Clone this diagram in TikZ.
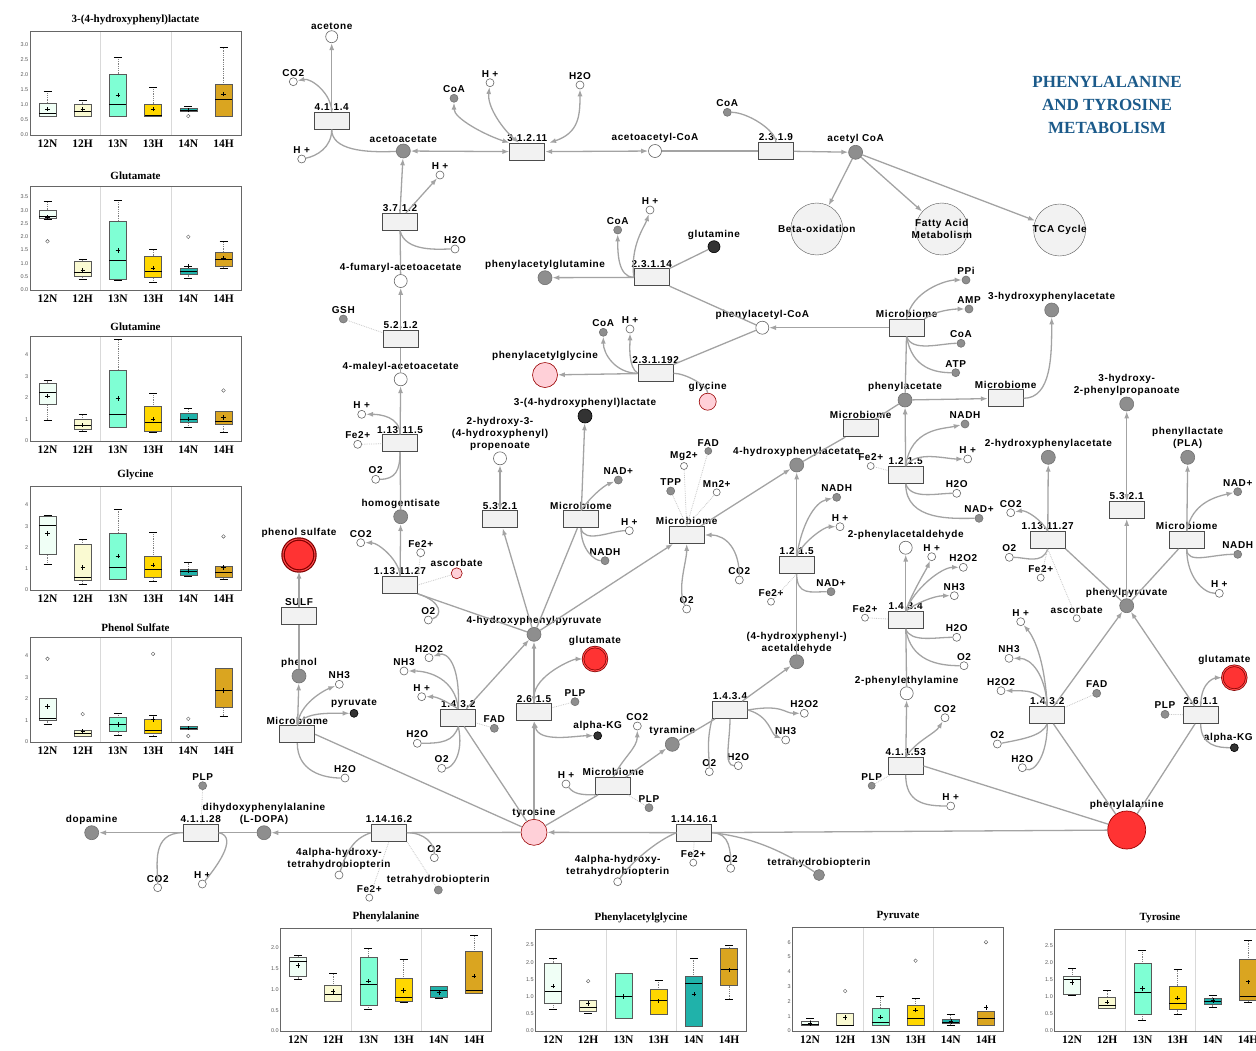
\documentclass[tikz,border=0pt]{standalone}
\usepackage{fontspec}
\setmainfont{Liberation Serif}
\newfontfamily\lbf[LetterSpace=6]{Liberation Sans}
\newfontfamily\tkf{Liberation Sans}
\newfontfamily\chf{Liberation Serif}
\usetikzlibrary{arrows.meta}
\usepackage{xcolor}

\definecolor{lgray}{HTML}{A3A3A3}
\definecolor{mgray}{HTML}{8E8E8E}
\definecolor{bgray}{HTML}{F2F2F2}
\definecolor{pinkf}{HTML}{FFD0D8}
\definecolor{redf}{HTML}{FF3333}
\definecolor{ttlblue}{HTML}{1B5A8A}
\definecolor{c12n}{HTML}{F0FFF6}
\definecolor{c12h}{HTML}{FAFAD2}
\definecolor{c13n}{HTML}{7FFFD4}
\definecolor{c13h}{HTML}{FFD700}
\definecolor{c14n}{HTML}{20B2AA}
\definecolor{c14h}{HTML}{DAA520}

\newcommand\lbfont{\lbf\bfseries\fontsize{10}{12}\selectfont}

\tikzset{
  every label/.style={font=\lbfont, inner sep=1pt, align=center},
  label distance=0pt,
  sw/.style={circle, draw=gray!80!black, fill=white, minimum size=8pt, inner sep=0pt, line width=0.6pt},
  sg/.style={sw, fill=mgray, draw=mgray!80!black},
  sd/.style={sw, fill=black!80, draw=black},
  mw/.style={sw, minimum size=13pt},
  mg/.style={sg, minimum size=14pt},
  md/.style={sd, minimum size=14pt},
  pk/.style={circle, draw=red!60!black, fill=pinkf, inner sep=0pt, line width=0.6pt},
  rd/.style={circle, draw=red!50!black, fill=redf, inner sep=0pt, line width=0.7pt, double=red!70!white, double distance=1pt},
  rds/.style={circle, draw=red!60!black, fill=redf, inner sep=0pt, line width=0.7pt},
  enz/.style={draw=gray!60!black, fill=bgray, minimum width=35pt, minimum height=17pt, inner sep=0pt, line width=0.7pt},
  big/.style={circle, draw=gray!70!black, fill=bgray, minimum size=52pt, inner sep=0pt},
  lb/.style={font=\lbfont, inner sep=1pt, align=center},
  rl/.style={draw=lgray, line width=1.3pt},
  rx/.style={rl, -{Latex[length=7pt,width=5pt]}},
  rb/.style={rl, {Latex[length=7pt,width=5pt]}-{Latex[length=7pt,width=5pt]}},
  cf/.style={draw=gray!45, densely dotted, line width=0.8pt},
  tklbl/.style={anchor=east, font=\tkf\fontsize{5.5}{6}\selectfont, text=gray!70!black, inner sep=1.5pt},
  grplbl/.style={anchor=north, font=\chf\bfseries\fontsize{11.5}{12}\selectfont, yshift=-4pt, inner sep=1pt},
  ctitle/.style={anchor=south, font=\chf\bfseries\fontsize{11}{12}\selectfont, yshift=5pt, inner sep=1pt}
}

% frame, ticks, groups and title of one box plot
\newcommand\chartaxes[3]{%
  \draw[gray!30] (70.4,0) -- (70.4,#1) (140.8,0) -- (140.8,#1);
  \draw[gray!80!black, line width=0.6pt] (0,0) rectangle (211,#1);
  \foreach \t in {#3} \node[tklbl] at (0,\t) {\t};
  \foreach \g [count=\i from 0] in {12N,12H,13N,13H,14N,14H} \node[grplbl] at (17.5+35.2*\i,0) {\g};
  \node[ctitle] at (105.5,#1) {#2};
}
% one box: index, min, q1, median, q3, max, mean, colour
\newcommand\bxplot[8]{%
  \pgfmathsetmacro\bxc{17.5+35.2*#1}
  \draw[gray, densely dotted, line width=0.8pt] (\bxc,#2) -- (\bxc,#3) (\bxc,#5) -- (\bxc,#6);
  \draw[line width=0.7pt] (\bxc-4,#2) -- (\bxc+4,#2) (\bxc-4,#6) -- (\bxc+4,#6);
  \filldraw[fill=#8, draw=gray!70!black, line width=0.5pt] (\bxc-8.5,#3) rectangle (\bxc+8.5,#5);
  \draw[line width=0.8pt] (\bxc-8.5,#4) -- (\bxc+8.5,#4);
  \draw[line width=0.6pt] (\bxc,#7) +(-2.2pt,0) -- +(2.2pt,0) +(0,-2.2pt) -- +(0,2.2pt);
}
\newcommand\outl[2]{\draw[gray!70!black] (17.5+35.2*#1,#2) circle (1.8pt);}

\begin{document}
\begin{tikzpicture}[x=1pt, y=-1pt]
\clip (0,0) rectangle (1256,1050);

% ---- top: ketone bodies
\draw (331.7,36.7) node (acetone) [mw, minimum size=12pt, label=above:acetone] {};
\draw (293.3,81.7) node (co2a) [sw, label=above:CO2] {};
\draw (331.7,120.7) node (e4114) [enz, label=above:4.1.1.4] {};
\draw (301.7,159) node (hpa) [sw, label=above:H +] {};
\draw (403.3,151) node (acac) [mg, label=above:acetoacetate] {};
\draw (527.3,151.7) node (e31211) [enz, label=above:3.1.2.11] {};
\draw (454,98.3) node (coaa) [sg, label=above:CoA] {};
\draw (490,82.7) node (hpb) [sw, label=above:H +] {};
\draw (580,85) node (h2oa) [sw, label=above:H2O] {};
\draw (655,151) node (acacoa) [mw, label=above:acetoacetyl-CoA] {};
\draw (775.9,151) node (e2319) [enz, label=above:2.3.1.9] {};
\draw (727.3,112.3) node (coab) [sg, label=above:CoA] {};
\draw (855.6,152.3) node (accoa) [mg, label=above:acetyl CoA] {};
\draw (816.8,229) node (beta) [big] {};
\draw (941.8,229) node (fatty) [big] {};
\draw (1059.6,230) node (tca) [big] {};
\node[lb] at (beta) {Beta-oxidation};
\node[lb] at (fatty) {Fatty Acid\\Metabolism};
\node[lb] at (tca) {TCA Cycle};
\node[align=center, text=ttlblue, font=\chf\bfseries\fontsize{17}{23}\selectfont] (title) at (1107,105) {PHENYLALANINE\\AND TYROSINE\\METABOLISM};

% ---- homogentisate branch
\draw (440,175) node (hpc) [sw, label=above:H +] {};
\draw (400,221.7) node (e3712) [enz, label=above:3.7.1.2] {};
\draw (455,249) node (h2ob) [sw, label=above:H2O] {};
\draw (400.7,281) node (fum) [mw, label=above:4-fumaryl-acetoacetate] {};
\draw (400.7,339) node (e5212) [enz, label=above:5.2.1.2] {};
\draw (343.3,319) node (gsh) [sg, label=above:GSH] {};
\draw (400.7,379.3) node (mal) [mw, label=above:4-maleyl-acetoacetate] {};
\draw (361.7,414.3) node (hpd) [sw, label=above:H +] {};
\draw (400,443.3) node (e113115) [enz, label=above:1.13.11.5] {};
\draw (357.7,444.3) node (fea) [sw, label=above:Fe2+] {};
\draw (375.7,479.3) node (o2a) [sw, label=above:O2] {};
\draw (400.7,516.7) node (hga) [mg, label=above:homogentisate] {};
\draw (400,585) node (e1131127a) [enz, label=above:1.13.11.27] {};
\draw (360.7,542.7) node (co2b) [sw, label=above:CO2] {};
\draw (420.7,552.7) node (feb) [sw, label=above:Fe2+] {};
\draw (456.7,573.3) node (asca) [pk, minimum size=11pt, label=above:ascorbate] {};
\draw (428.3,620) node (o2b) [sw, label=above:O2] {};
\draw (534,634.3) node (hpp) [mg, label=above:4-hydroxyphenylpyruvate] {};

% ---- phenol
\draw (299,555) node (phs) [rd, minimum size=32pt, line width=1.2pt, label=above:phenol sulfate] {};
\draw (299,615.7) node (sulf) [enz, label=above:SULF] {};
\draw (299,676) node (phen) [mg, label=above:phenol] {};
\draw (297.3,734.3) node (mba) [enz, label=above:Microbiome] {};
\draw (339.3,684.3) node (nh3a) [sw, label=above:NH3] {};
\draw (354,713.3) node (pyr) [sd, label=above:pyruvate] {};
\draw (345,778) node (h2oc) [sw, label=above:H2O] {};

% ---- tyrosine side
\draw (500,458.3) node (hpprop) [mw, label={above:2-hydroxy-3-\\(4-hydroxyphenyl)\\propenoate}] {};
\draw (500,519.3) node (e5321a) [enz, label=above:5.3.2.1] {};
\draw (581,519.3) node (mbb) [enz, label=above:Microbiome] {};
\draw (585,416) node (hplac) [md, label=above:3-(4-hydroxyphenyl)lactate] {};
\draw (618.3,480) node (nada) [sg, label=above:NAD+] {};
\draw (629.3,530.7) node (hpe) [sw, label=above:H +] {};
\draw (605,560.7) node (nadha) [sg, label=above:NADH] {};
\draw (686.7,535) node (mbc) [enz, label=above:Microbiome] {};
\draw (670.7,491) node (tpp) [sg, label=above:TPP] {};
\draw (684,466) node (mg2) [sw, minimum size=7pt, label=above:Mg2+] {};
\draw (708.3,451) node (fada) [sg, minimum size=7pt, label=above:FAD] {};
\draw (716.7,492.3) node (mn2) [sw, minimum size=7pt, label=above:Mn2+] {};
\draw (739.3,580) node (co2c) [sw, label=above:CO2] {};
\draw (686.7,609) node (o2c) [sw, label=above:O2] {};
\draw (796.7,465) node (hpa4) [mg, label=above:4-hydroxyphenylacetate] {};
\draw (595,659) node (glua) [rd, minimum size=24pt, label=above:glutamate] {};
\draw (534,712.3) node (e2615) [enz, label=above:2.6.1.5] {};
\draw (575,701.7) node (plpa) [sg, label=above:PLP] {};
\draw (597.7,735.7) node (akga) [sd, label=above:alpha-KG] {};
\draw (458.3,717.7) node (e1432a) [enz, label=above:1.4.3.2] {};
\draw (429,657.7) node (h2o2a) [sw, label=above:H2O2] {};
\draw (404,671) node (nh3b) [sw, label=above:NH3] {};
\draw (421.7,696.7) node (hpf) [sw, label=above:H +] {};
\draw (494.3,728.3) node (fadb) [sg, label=above:FAD] {};
\draw (417.3,743.3) node (h2od) [sw, label=above:H2O] {};
\draw (441.7,768.3) node (o2d) [sw, label=above:O2] {};
\draw (730,710) node (e1434a) [enz, label=above:1.4.3.4] {};
\draw (672.3,744.3) node (tyra) [mg, label=above:tyramine] {};
\draw (796.7,661.7) node (hpald) [mg, label={above:(4-hydroxyphenyl-)\\acetaldehyde}] {};
\draw (804.3,713.3) node (h2o2b) [sw, label=above:H2O2] {};
\draw (785.7,740) node (nh3c) [sw, label=above:NH3] {};
\draw (709.3,771.7) node (o2e) [sw, label=above:O2] {};
\draw (738.3,765.7) node (h2oe) [sw, label=above:H2O] {};
\draw (613.3,786) node (mbd) [enz, label=above:Microbiome] {};
\draw (566,784) node (hpg) [sw, label=above:H +] {};
\draw (649,807.7) node (plpb) [sg, label=above:PLP] {};
\draw (637.3,726) node (co2d) [sw, label=above:CO2] {};
\draw (534,832.3) node (tyr) [pk, minimum size=26pt, label=above:tyrosine] {};

% ---- bottom row
\draw (694.3,832.7) node (e114161) [enz, label=above:1.14.16.1] {};
\draw (617.7,881.7) node (bh4oa) [sw, label={above:4alpha-hydroxy-\\tetrahydrobiopterin}] {};
\draw (693.3,862.7) node (fec) [sw, minimum size=7pt, label=above:Fe2+] {};
\draw (730.7,868.3) node (o2f) [sw, label=above:O2] {};
\draw (819,875) node (bh4a) [sg, minimum size=11pt, label=above:tetrahydrobiopterin] {};
\draw (389,832.7) node (e114162) [enz, label=above:1.14.16.2] {};
\draw (264,832.7) node (ldopa) [mg, label={above:dihydoxyphenylalanine\\(L-DOPA)}] {};
\draw (339,875) node (bh4ob) [sw, label={above:4alpha-hydroxy-\\tetrahydrobiopterin}] {};
\draw (369.3,897.7) node (fed) [sw, minimum size=7pt, label=above:Fe2+] {};
\draw (438.3,890) node (bh4b) [sg, label=above:tetrahydrobiopterin] {};
\draw (434.3,857.7) node (o2g) [sw, label=above:O2] {};
\draw (200.7,832.7) node (e41128) [enz, label=above:4.1.1.28] {};
\draw (202.7,785.7) node (plpc) [sg, label=above:PLP] {};
\draw (91.7,832.7) node (dopa) [mg, label=above:dopamine] {};
\draw (157.7,887.7) node (co2e) [sw, label=above:CO2] {};
\draw (202.3,884) node (hph) [sw, label=above:H +] {};

% ---- phenylacetate side
\draw (762.3,327.7) node (paccoa) [mw, label=above:phenylacetyl-CoA] {};
\draw (651.7,277.3) node (e23114) [enz, label=above:2.3.1.14] {};
\draw (545,277.7) node (pagln) [mg, label=above:phenylacetylglutamine] {};
\draw (617.7,230) node (coac) [sg, label=above:CoA] {};
\draw (650,210) node (hpi) [sw, label=above:H +] {};
\draw (714,246.7) node (gln) [md, minimum size=12pt, label=above:glutamine] {};
\draw (655.7,373.3) node (e231192) [enz, label=above:2.3.1.192] {};
\draw (545,375) node (pagly) [pk, minimum size=25pt, label=above:phenylacetylglycine] {};
\draw (603.3,332.3) node (coad) [sg, label=above:CoA] {};
\draw (630,329) node (hpj) [sw, label=above:H +] {};
\draw (707.7,401.7) node (gly) [pk, minimum size=17pt, label=above:glycine] {};
\draw (906.7,327.7) node (mbe) [enz, label=above:Microbiome] {};
\draw (966,280) node (ppi) [sg, label=above:PPi] {};
\draw (969,309) node (amp) [sg, label=above:AMP] {};
\draw (1051.7,310) node (hpa3) [mg, label=above:3-hydroxyphenylacetate] {};
\draw (961,343.3) node (coae) [sg, label=above:CoA] {};
\draw (955.7,372.7) node (atp) [sg, label=above:ATP] {};
\draw (905,400) node (pac) [mg, label=above:phenylacetate] {};
\draw (1005.7,398.3) node (mbf) [enz, label=above:Microbiome] {};
\draw (860.7,428.3) node (mbg) [enz, label=above:Microbiome] {};
\draw (905.7,475) node (e1215b) [enz, label=above:1.2.1.5] {};
\draw (870.7,466) node (fee) [sw, minimum size=7pt, label=above:Fe2+] {};
\draw (965,424) node (nadhb) [sg, label=above:NADH] {};
\draw (967.7,459) node (hpk) [sw, label=above:H +] {};
\draw (1048.3,457.3) node (hpa2) [mg, label=above:2-hydroxyphenylacetate] {};
\draw (956.7,493.3) node (h2of) [sw, label=above:H2O] {};
\draw (979,518.3) node (nadb) [sg, label=above:NAD+] {};
\draw (905.7,547.7) node (pald) [mw, label=above:2-phenylacetaldehyde] {};
\draw (796.7,565) node (e1215a) [enz, label=above:1.2.1.5] {};
\draw (836.7,497.3) node (nadhc) [sg, label=above:NADH] {};
\draw (840,526.7) node (hpl) [sw, label=above:H +] {};
\draw (831,591.7) node (nadc) [sg, label=above:NAD+] {};
\draw (771,601.7) node (fef) [sw, minimum size=7pt, label=above:Fe2+] {};
\draw (905.7,620) node (e1434b) [enz, label=above:1.4.3.4] {};
\draw (931.7,556.7) node (hpm) [sw, label=above:H +] {};
\draw (963.3,567.3) node (h2o2c) [sw, label=above:H2O2] {};
\draw (954.3,595.7) node (nh3d) [sw, label=above:NH3] {};
\draw (865,617.7) node (feg) [sw, minimum size=7pt, label=above:Fe2+] {};
\draw (956.7,637.3) node (h2og) [sw, label=above:H2O] {};
\draw (964,665.7) node (o2h) [sw, label=above:O2] {};
\draw (906.7,693.3) node (pea) [mw, label=above:2-phenylethylamine] {};
\draw (905.7,766) node (e41153) [enz, label=above:4.1.1.53] {};
\draw (945,717.7) node (co2f) [sw, label=above:CO2] {};
\draw (871.7,785.7) node (plpd) [sg, minimum size=7pt, label=above:PLP] {};
\draw (950.7,806) node (hpn) [sw, label=above:H +] {};
\draw (1126.7,830) node (phe) [rds, minimum size=38pt, label=above:phenylalanine] {};
\draw (1047.3,715) node (e1432b) [enz, label=above:1.4.3.2] {};
\draw (1020.7,621.7) node (hpo) [sw, label=above:H +] {};
\draw (1009,658.3) node (nh3e) [sw, label=above:NH3] {};
\draw (1001,690.7) node (h2o2d) [sw, label=above:H2O2] {};
\draw (1096.7,693.3) node (fadc) [sg, label=above:FAD] {};
\draw (997.3,744) node (o2i) [sw, label=above:O2] {};
\draw (1022.3,767.7) node (h2oh) [sw, label=above:H2O] {};
\draw (1126.7,605.7) node (ppyr) [mg, label=above:phenylpyruvate] {};
\draw (1200.7,715) node (e2611) [enz, label=above:2.6.1.1] {};
\draw (1165,714.3) node (plpe) [sg, label=above:PLP] {};
\draw (1234.3,677.7) node (glub) [rd, minimum size=24pt, label={[xshift=-10pt]above:glutamate}] {};
\draw (1234.3,747.7) node (akgb) [sd, label={[xshift=-6pt]above:alpha-KG}] {};
\draw (1047.7,540) node (e1131127b) [enz, label=above:1.13.11.27] {};
\draw (1010.7,512.7) node (co2g) [sw, label=above:CO2] {};
\draw (1009.3,557.3) node (o2j) [sw, label=above:O2] {};
\draw (1040.7,577.7) node (feh) [sw, minimum size=7pt, label=above:Fe2+] {};
\draw (1076.7,618.3) node (ascb) [sw, minimum size=7pt, label=above:ascorbate] {};
\draw (1126.7,510) node (e5321b) [enz, label=above:5.3.2.1] {};
\draw (1126.7,404) node (hppa) [mg, label={above:3-hydroxy-\\2-phenylpropanoate}] {};
\draw (1186.7,540) node (mbh) [enz, label=above:Microbiome] {};
\draw (1187.7,457.3) node (pla) [mg, label={above:phenyllactate\\(PLA)}] {};
\draw (1237.7,491.7) node (nadd) [sg, label=above:NAD+] {};
\draw (1237.7,554.3) node (nadhd) [sg, label=above:NADH] {};
\draw (1219.3,593.3) node (hpq) [sw, label=above:H +] {};

% ---- reactions, top
\draw [rx] (e4114.north) to (acetone);
\draw [rx] (e4114.north) .. controls +(0,-18) and +(18,-4) .. (co2a);
\draw [rl] (hpa) .. controls +(15,-3) and +(0,18) .. (e4114.south);
\draw [rl] (acac) .. controls +(-40,2) and +(0,20) .. (e4114.south);
\draw [rb] (acac) to (e31211);
\draw [rb] (e31211) to (acacoa);
\draw [rb] (e31211.north west) .. controls +(-25,-8) and +(0,20) .. (coaa);
\draw [rb] ([xshift=-8pt]e31211.north) .. controls +(-15,-12) and +(-3,25) .. (hpb);
\draw [rb] ([xshift=4pt]e31211.north east) .. controls +(30,-10) and +(0,30) .. (h2oa);
\draw [rl] (acacoa) to (e2319);
\draw [rx] (e2319) to (accoa);
\draw [rl] (coab) .. controls +(20,0) and +(0,-12) .. (e2319.north);
\draw [rx] (accoa) to (beta);
\draw [rx] (accoa) to (fatty);
\draw [rx] (accoa) to (tca);

% ---- homogentisate branch
\draw [rx] (e3712.north) to (acac);
\draw [rx] ([xshift=6pt]e3712.north) to (hpc);
\draw [rl] (e3712.south) .. controls +(5,22) and +(-15,0) .. (h2ob);
\draw [rl] (fum) to (e3712);
\draw [rx] (e5212) to (fum);
\draw [cf] (gsh) to (e5212);
\draw [rl] (mal) to (e5212);
\draw [rx] (e113115) to (mal);
\draw [rx] (e113115.north) .. controls +(0,-18) and +(18,0) .. (hpd);
\draw [cf] (fea) to (e113115);
\draw [rl] (o2a) .. controls +(20,0) and +(0,18) .. (e113115.south);
\draw [rl] (hga) to (e113115);
\draw [rx] (e1131127a) to (hga);
\draw [rx] (e1131127a.north) .. controls +(0,-15) and +(18,0) .. (co2b);
\draw [cf] (feb) to (e1131127a.north east);
\draw [cf] (asca) to (e1131127a.east);
\draw [rl] (hpp) to (e1131127a.south east);
\draw [rl] (e1131127a.south east) .. controls +(25,8) and +(14,-4) .. (o2b);

% ---- phenol
\draw [rx] (sulf) to (phs);
\draw [rl] (phen) to (sulf);
\draw [rx] (mba) to (phen);
\draw [rx] (mba.north) .. controls +(2,-22) and +(-15,6) .. (nh3a);
\draw [rx] (mba.north) .. controls +(6,-14) and +(-22,0) .. (pyr);
\draw [rl] (mba.south) .. controls +(0,28) and +(-22,0) .. (h2oc);
\draw [rl] (mba.east) to (tyr);

% ---- tyrosine side
\draw [rb] (e5321a) to (hpprop);
\draw [rx] (hpp) to (e5321a);
\draw [rx] (mbb) to (hplac);
\draw [rx] (mbb.north) .. controls +(8,-12) and +(-15,6) .. (nada);
\draw [rl] (mbb.south) .. controls +(3,16) and +(-18,0) .. (hpe);
\draw [rl] (mbb.south) .. controls +(0,22) and +(-10,0) .. (nadha);
\draw [rl] (hpp) to (mbb);
\draw [cf] (tpp) to (mbc.north);
\draw [cf] (mg2) to (mbc.north);
\draw [cf] (fada) to (mbc.north);
\draw [cf] (mn2) to (mbc.north);
\draw [rx] (hpp) to (mbc);
\draw [rx] (co2c) .. controls +(0,-30) and +(22,0) .. (mbc.east);
\draw [rx] (o2c) .. controls +(-10,-20) and +(0,18) .. (mbc.south);
\draw [rx] (mbc) to (hpa4);
\draw [rx] (e2615) to (hpp);
\draw [rx] (tyr) to (e2615);
\draw [rb] (e2615.north) .. controls +(0,-28) and +(-22,0) .. (glua);
\draw [cf] (plpa) to (e2615);
\draw [rb] (e2615.south) .. controls +(5,22) and +(-22,0) .. (akga);
\draw [rx] (e1432a) to (hpp);
\draw [rl] (tyr) to (e1432a);
\draw [rx] (e1432a.north) .. controls +(2,-45) and +(18,-6) .. (h2o2a);
\draw [rx] (e1432a.north) .. controls +(-3,-30) and +(25,0) .. (nh3b);
\draw [rx] (e1432a.north) .. controls +(-10,-6) and +(16,0) .. (hpf);
\draw [cf] (fadb) to (e1432a);
\draw [rl] (e1432a.south) .. controls +(-5,15) and +(25,0) .. (h2od);
\draw [rl] (e1432a.south) .. controls +(6,28) and +(10,0) .. (o2d);
\draw [rl] (tyra) to (e1434a);
\draw [rx] (e1434a) to (hpald);
\draw [rx] (e1434a.east) .. controls +(35,-6) and +(-20,0) .. (h2o2b);
\draw [rx] (e1434a.east) .. controls +(22,6) and +(-15,-6) .. (nh3c);
\draw [rl] (e1434a.south west) .. controls +(-6,22) and +(0,-16) .. (o2e);
\draw [rl] (e1434a.south) .. controls +(0,22) and +(-15,0) .. (h2oe);
\draw [rl] (tyr) to (mbd);
\draw [rx] (mbd) to (tyra);
\draw [rx] (mbd.north) .. controls +(10,-20) and +(0,22) .. (co2d);
\draw [rl] (hpg) .. controls +(8,10) and +(-15,0) .. (mbd.south west);
\draw [cf] (plpb) to (mbd);

% ---- bottom row
\draw [rx] (e114161) to (tyr);
\draw [rl] (phe) to (e114161);
\draw [rl] (e114161.west) .. controls +(-20,8) and +(12,-18) .. (bh4oa);
\draw [cf] (fec) to (e114161);
\draw [rl] (e114161.east) .. controls +(18,0) and +(0,-16) .. (o2f);
\draw [rl] (e114161.east) .. controls +(45,5) and +(-30,-20) .. (bh4a);
\draw [rl] (tyr) to (e114162);
\draw [rx] (e114162) to (ldopa);
\draw [rl] (e114162.west) .. controls +(-20,6) and +(6,-18) .. (bh4ob);
\draw [cf] (fed) to (e114162.south);
\draw [cf] (bh4b) to (e114162.south east);
\draw [rl] (e114162.east) .. controls +(18,0) and +(0,-14) .. (o2g);
\draw [rl] (ldopa) to (e41128);
\draw [rx] (e41128) to (dopa);
\draw [cf] (plpc) to (e41128);
\draw [rl] (e41128.west) .. controls +(-32,0) and +(0,-22) .. (co2e);
\draw [rl] (e41128.east) .. controls +(22,4) and +(10,-12) .. (hph);

% ---- phenylacetate side
\draw [rl] (paccoa) to (e23114.south east);
\draw [rx] (e23114) to (pagln);
\draw [rx] (e23114.west) .. controls +(-16,0) and +(0,22) .. (coac);
\draw [rx] (e23114.west) .. controls +(-4,-32) and +(-5,16) .. (hpi);
\draw [rl] (gln) to (e23114.north east);
\draw [rl] (paccoa) to (e231192.north east);
\draw [rx] (e231192) to (pagly);
\draw [rx] (e231192.west) .. controls +(-22,0) and +(0,22) .. (coad);
\draw [rx] (e231192.west) .. controls +(-10,-6) and +(0,16) .. (hpj);
\draw [rl] (e231192.east) .. controls +(12,0) and +(0,-16) .. (gly);
\draw [rx] (mbe) to (paccoa);
\draw [rx] (mbe.north) .. controls +(5,-28) and +(-20,0) .. (ppi);
\draw [rx] (mbe.north east) .. controls +(10,-8) and +(-16,0) .. (amp);
\draw [rl] (mbe.south) .. controls +(5,16) and +(-20,0) .. (coae);
\draw [rl] (mbe.south) .. controls +(5,32) and +(-20,0) .. (atp);
\draw [rl] (pac) to (mbe);
\draw [rx] (pac) to (mbf);
\draw [rx] (mbf.east) .. controls +(28,0) and +(0,45) .. (hpa3);
\draw [rl] (hpa4) to (mbg);
\draw [rl] (mbg) to (pac);
\draw [rx] (e1215b) to (pac);
\draw [rx] (e1215b.north) .. controls +(5,-38) and +(-22,5) .. (nadhb);
\draw [rx] (e1215b.north) .. controls +(10,-16) and +(-22,0) .. (hpk);
\draw [cf] (fee) to (e1215b);
\draw [rl] (e1215b.south) .. controls +(5,16) and +(-20,0) .. (h2of);
\draw [rl] (e1215b.south) .. controls +(0,38) and +(-25,0) .. (nadb);
\draw [rx] (e1215a) to (hpa4);
\draw [rl] (hpald) to (e1215a);
\draw [rx] (e1215a.north) .. controls +(5,-32) and +(-22,5) .. (nadhc);
\draw [rx] (e1215a.north) .. controls +(6,-14) and +(-16,0) .. (hpl);
\draw [rl] (e1215a.south) .. controls +(0,22) and +(-20,0) .. (nadc);
\draw [cf] (fef) to (e1215a.south);
\draw [rx] (e1434b) to (pald);
\draw [rx] (e1434b.north) .. controls +(5,-16) and +(-5,12) .. (hpm);
\draw [rx] (e1434b.north) .. controls +(8,-22) and +(-22,0) .. (h2o2c);
\draw [rx] (e1434b.north) .. controls +(10,-8) and +(-20,0) .. (nh3d);
\draw [cf] (feg) to (e1434b);
\draw [rl] (e1434b.south) .. controls +(5,14) and +(-22,0) .. (h2og);
\draw [rl] (e1434b.south) .. controls +(5,32) and +(-26,0) .. (o2h);
\draw [rl] (pea) to (e1434b);
\draw [rx] (e41153) to (pea);
\draw [rx] (e41153.north) .. controls +(10,-16) and +(-10,16) .. (co2f);
\draw [cf] (plpd) to (e41153);
\draw [rl] (e41153.south) .. controls +(0,28) and +(-26,0) .. (hpn);
\draw [rl] (phe) to (e41153.east);
\draw [rx] (e1432b) to (ppyr);
\draw [rl] (phe) to (e1432b);
\draw [rx] (e1432b.north) .. controls +(-3,-50) and +(12,14) .. (hpo);
\draw [rx] (e1432b.north) .. controls +(-2,-32) and +(22,0) .. (nh3e);
\draw [rx] (e1432b.north) .. controls +(-8,-16) and +(26,0) .. (h2o2d);
\draw [cf] (fadc) to (e1432b);
\draw [rl] (e1432b.south) .. controls +(-5,12) and +(26,-5) .. (o2i);
\draw [rl] (e1432b.south) .. controls +(0,32) and +(12,5) .. (h2oh);
\draw [rx] (e2611) to (ppyr);
\draw [rl] (phe) to (e2611);
\draw [cf] (plpe) to (e2611);
\draw [rx] (e2611.north) .. controls +(0,-28) and +(-16,0) .. (glub);
\draw [rl] (e2611.south) .. controls +(0,22) and +(-16,0) .. (akgb);
\draw [rx] (e1131127b) to (hpa2);
\draw [rl] (ppyr) to (e1131127b.south east);
\draw [rx] (e1131127b.north) .. controls +(-5,-10) and +(16,-3) .. (co2g);
\draw [rl] (e1131127b.south) .. controls +(-5,16) and +(16,0) .. (o2j);
\draw [cf] (feh) to (e1131127b.south);
\draw [cf] (ascb) to (e1131127b.south);
\draw [rb] (e5321b) to (hppa);
\draw [rb] (e5321b) to (ppyr);
\draw [rx] (mbh) to (pla);
\draw [rl] (ppyr) to (mbh);
\draw [rx] (mbh.north) .. controls +(5,-28) and +(-22,5) .. (nadd);
\draw [rl] (mbh.south) .. controls +(0,16) and +(-26,0) .. (nadhd);
\draw [rl] (mbh.south) .. controls +(0,28) and +(-16,0) .. (hpq);

% ---- box plots, left column
\begin{scope}[xshift=30pt, yshift=-135pt, y=30pt]
  \chartaxes{3.47}{3-(4-hydroxyphenyl)lactate}{0.0,0.5,1.0,1.5,2.0,2.5,3.0}
  \bxplot{0}{0.63}{0.63}{0.73}{1.07}{1.47}{0.87}{c12n}
  \bxplot{1}{0.63}{0.63}{0.80}{1.03}{1.17}{0.87}{c12h}
  \bxplot{2}{0.63}{0.63}{1.03}{2.03}{2.60}{1.33}{c13n}
  \bxplot{3}{0.63}{0.63}{0.67}{1.03}{1.60}{0.87}{c13h}
  \bxplot{4}{0.79}{0.80}{0.83}{0.88}{0.97}{0.83}{c14n}
  \bxplot{5}{0.63}{0.63}{1.20}{1.68}{2.93}{1.37}{c14h}
  \outl{4}{0.63}
\end{scope}
\begin{scope}[xshift=30pt, yshift=-290pt, y=26.6pt]
  \chartaxes{3.9}{Glutamate}{0.0,0.5,1.0,1.5,2.0,2.5,3.0,3.5}
  \bxplot{0}{2.67}{2.68}{2.75}{3.00}{3.35}{2.73}{c12n}
  \bxplot{1}{0.40}{0.50}{0.65}{1.08}{1.15}{0.74}{c12h}
  \bxplot{2}{0.37}{0.40}{1.13}{2.60}{3.38}{1.48}{c13n}
  \bxplot{3}{0.27}{0.47}{0.70}{1.27}{1.53}{0.83}{c13h}
  \bxplot{4}{0.42}{0.58}{0.70}{0.80}{0.88}{0.90}{c14n}
  \bxplot{5}{0.80}{0.88}{1.15}{1.43}{1.83}{1.20}{c14h}
  \outl{0}{1.83}
  \outl{4}{2.0}
\end{scope}
\begin{scope}[xshift=30pt, yshift=-441pt, y=21.5pt]
  \chartaxes{4.85}{Glutamine}{0,1,2,3,4}
  \bxplot{0}{0.97}{1.72}{2.28}{2.70}{2.80}{2.10}{c12n}
  \bxplot{1}{0.43}{0.53}{0.72}{1.00}{1.25}{0.75}{c12h}
  \bxplot{2}{0.62}{0.62}{1.25}{3.30}{4.75}{1.97}{c13n}
  \bxplot{3}{0.38}{0.47}{0.87}{1.60}{2.22}{1.03}{c13h}
  \bxplot{4}{0.62}{0.85}{1.00}{1.27}{1.50}{1.02}{c14n}
  \bxplot{5}{0.42}{0.78}{0.93}{1.40}{1.40}{1.10}{c14h}
  \outl{5}{2.35}
\end{scope}
\begin{scope}[xshift=30pt, yshift=-590pt, y=21.25pt]
  \chartaxes{4.9}{Glycine}{0,1,2,3,4}
  \bxplot{0}{1.20}{1.67}{3.05}{3.47}{3.52}{2.65}{c12n}
  \bxplot{1}{0.28}{0.47}{0.57}{2.15}{2.38}{1.05}{c12h}
  \bxplot{2}{0.52}{0.52}{1.05}{2.68}{3.80}{1.60}{c13n}
  \bxplot{3}{0.43}{0.60}{0.95}{1.58}{2.72}{1.18}{c13h}
  \bxplot{4}{0.62}{0.70}{0.88}{1.00}{1.28}{0.90}{c14n}
  \bxplot{5}{0.48}{0.58}{0.82}{1.13}{1.13}{1.05}{c14h}
  \outl{5}{2.52}
\end{scope}
\begin{scope}[xshift=30pt, yshift=-742pt, y=21.5pt]
  \chartaxes{4.85}{Phenol Sulfate}{0,1,2,3,4}
  \bxplot{0}{0.80}{1.00}{1.10}{2.05}{2.05}{1.65}{c12n}
  \bxplot{1}{0.25}{0.28}{0.38}{0.55}{0.55}{0.52}{c12h}
  \bxplot{2}{0.33}{0.52}{0.82}{1.13}{1.33}{0.82}{c13n}
  \bxplot{3}{0.28}{0.42}{0.55}{1.05}{1.22}{1.05}{c13h}
  \bxplot{4}{0.58}{0.60}{0.65}{0.72}{0.72}{0.65}{c14n}
  \bxplot{5}{1.20}{1.60}{2.40}{3.42}{3.42}{2.40}{c14h}
  \outl{0}{3.87}
  \outl{1}{1.30}
  \outl{3}{4.10}
  \outl{4}{1.08}
  \outl{4}{0.28}
\end{scope}

% ---- box plots, bottom row
\begin{scope}[xshift=280.5pt, yshift=-1031pt, y=41.5pt]
  \chartaxes{2.48}{Phenylalanine}{0.0,0.5,1.0,1.5,2.0}
  \bxplot{0}{1.25}{1.32}{1.67}{1.78}{1.83}{1.58}{c12n}
  \bxplot{1}{0.72}{0.72}{0.88}{1.10}{1.40}{0.95}{c12h}
  \bxplot{2}{0.52}{0.62}{1.13}{1.78}{1.98}{1.20}{c13n}
  \bxplot{3}{0.70}{0.72}{0.80}{1.27}{1.72}{0.98}{c13h}
  \bxplot{4}{0.78}{0.82}{0.98}{1.07}{1.08}{0.93}{c14n}
  \bxplot{5}{0.90}{0.92}{0.98}{1.92}{2.30}{1.33}{c14h}
\end{scope}
\begin{scope}[xshift=535.5pt, yshift=-1031pt, y=34.4pt]
  \chartaxes{2.97}{Phenylacetylglycine}{0.0,0.5,1.0,1.5,2.0,2.5}
  \bxplot{0}{0.62}{0.82}{1.15}{1.97}{2.10}{1.30}{c12n}
  \bxplot{1}{0.50}{0.58}{0.70}{0.90}{0.90}{0.80}{c12h}
  \bxplot{2}{0.38}{0.38}{1.00}{1.67}{1.68}{1.00}{c13n}
  \bxplot{3}{0.47}{0.50}{0.88}{1.20}{1.48}{0.88}{c13h}
  \bxplot{4}{0.15}{0.15}{1.37}{1.58}{2.12}{1.07}{c14n}
  \bxplot{5}{0.93}{1.33}{1.80}{2.42}{2.50}{1.78}{c14h}
  \outl{1}{1.45}
\end{scope}
\begin{scope}[xshift=792.5pt, yshift=-1031pt, y=14.8pt]
  \chartaxes{7.0}{Pyruvate}{0,1,2,3,4,5,6}
  \bxplot{0}{0.40}{0.40}{0.45}{0.68}{0.88}{0.52}{c12n}
  \bxplot{1}{0.40}{0.40}{0.40}{1.22}{1.22}{0.92}{c12h}
  \bxplot{2}{0.40}{0.40}{0.60}{1.55}{2.32}{0.95}{c13n}
  \bxplot{3}{0.40}{0.42}{0.88}{1.72}{2.18}{1.40}{c13h}
  \bxplot{4}{0.40}{0.52}{0.55}{0.80}{1.15}{0.65}{c14n}
  \bxplot{5}{0.40}{0.40}{0.82}{1.35}{1.35}{1.60}{c14h}
  \outl{1}{2.70}
  \outl{3}{4.75}
  \outl{5}{6.00}
\end{scope}
\begin{scope}[xshift=1054.5pt, yshift=-1031pt, y=34pt]
  \chartaxes{3.0}{Tyrosine}{0.0,0.5,1.0,1.5,2.0,2.5}
  \bxplot{0}{1.05}{1.08}{1.52}{1.60}{1.85}{1.43}{c12n}
  \bxplot{1}{0.68}{0.68}{0.75}{1.00}{1.20}{0.85}{c12h}
  \bxplot{2}{0.32}{0.50}{1.15}{1.98}{2.38}{1.25}{c13n}
  \bxplot{3}{0.50}{0.65}{0.80}{1.32}{1.80}{0.97}{c13h}
  \bxplot{4}{0.70}{0.78}{0.88}{0.97}{1.05}{0.90}{c14n}
  \bxplot{5}{0.85}{0.90}{1.02}{2.10}{2.67}{1.45}{c14h}
\end{scope}
\end{tikzpicture}
\end{document}
